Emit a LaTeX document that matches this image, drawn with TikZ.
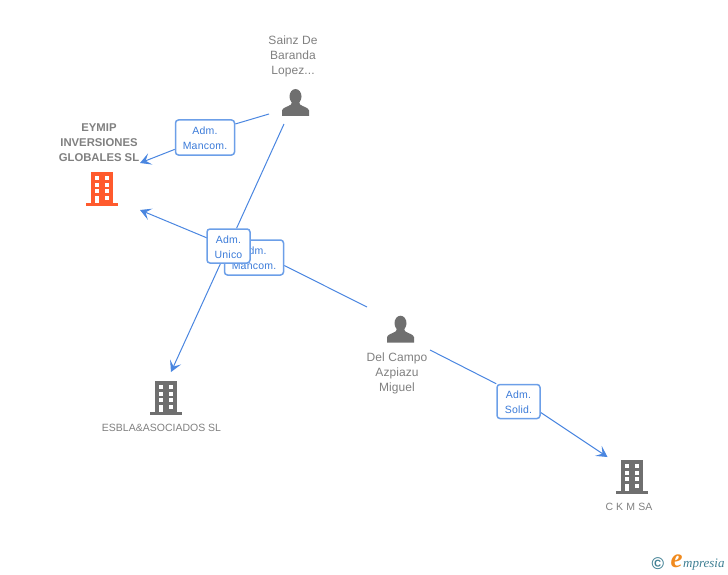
\documentclass[tikz,border=0pt]{standalone}
\usepackage{fontspec}
\setmainfont{Liberation Sans}
\newfontfamily\lblfont[LetterSpace=2]{Liberation Sans}
\newfontfamily\namefont[LetterSpace=0.6]{Liberation Sans}
\newfontfamily\ckmfont[LetterSpace=2]{Liberation Sans}
\newfontfamily\logofont{Liberation Serif}
\newcommand{\lblstrut}{\rule{0pt}{10pt}}
\usetikzlibrary{arrows.meta,backgrounds}
\definecolor{linkblue}{HTML}{4A86E0}
\definecolor{boxblue}{HTML}{6C9FE8}
\definecolor{lbltext}{HTML}{3B7BD9}
\definecolor{gtext}{HTML}{808080}
\definecolor{icongray}{HTML}{6F6F6F}
\definecolor{iconorange}{HTML}{FF5A2D}
\definecolor{logoteal}{HTML}{3F7F93}
\definecolor{logoorange}{HTML}{F08A1E}
\tikzset{
  x=1pt,y=-1pt,
  link/.style={draw=linkblue,line width=1pt},
  arrowlink/.style={link,-{Stealth[length=11pt,width=12pt,inset=5pt]}},
  relbox/.style={draw=boxblue,fill=white,line width=1.5pt,rounded corners=3pt,inner sep=0pt,align=center,font=\lblfont\fontsize{10.5}{15}\selectfont,text=lbltext},
  widebox/.style={relbox,minimum width=59pt,minimum height=35pt},
  narrowbox/.style={relbox,minimum width=43pt,minimum height=34pt},
  entname/.style={align=center,inner sep=0pt,text=gtext,font=\namefont\fontsize{12}{15}\selectfont},
  entbold/.style={align=center,inner sep=0pt,text=gtext,font=\bfseries\fontsize{11.3}{15}\selectfont},
  pics/building/.style={code={
    \fill[#1] (-11,0) rectangle (11,31);
    \fill[#1] (-16,31) rectangle (16,34);
    \fill[white] (-7,4) rectangle (-2.7,8);
    \fill[white] (3,4) rectangle (7.3,8);
    \fill[white] (-7,10.7) rectangle (-2.7,14.7);
    \fill[white] (3,10.7) rectangle (7.3,14.7);
    \fill[white] (-7,17.3) rectangle (-2.7,21.3);
    \fill[white] (3,17.3) rectangle (7.3,21.3);
    \fill[white] (-7,24) rectangle (-2.7,31);
    \fill[white] (3,24) rectangle (7.3,28);
  }},
  pics/person/.style={code={
    \fill[icongray] (0,7.5) ellipse[x radius=6,y radius=7.5];
    \fill[icongray] (-13.5,27) -- (-13.5,21.5) .. controls (-13,18.5) and (-8,18) .. (-4.5,15.5)
      -- (-3,11) -- (3,11) -- (4.5,15.5) .. controls (8,18) and (13,18.5) .. (13.5,21.5) -- (13.5,27) -- cycle;
  }}
}
\begin{document}
\begin{tikzpicture}
\useasboundingbox (0,0) rectangle (728,575);
% icons
\pic at (102,172) {building=iconorange};
\pic at (165.5,381) {building=icongray};
\pic at (631.5,460) {building=icongray};
\pic at (295.5,89) {person};
\pic at (400.5,315.7) {person};
% entity labels
\node[entname] (sainz) at (293,56.5) {Sainz De\\Baranda\\Lopez...};
\node[entbold] (eymip) at (99,142.5) {EYMIP\\INVERSIONES\\GLOBALES SL};
\node[entname] (campo) at (397,373.5) {Del Campo\\Azpiazu\\Miguel};
\node[entname,font=\fontsize{10.5}{15}\selectfont] (esbla) at (161.5,427.5) {ESBLA\&ASOCIADOS SL};
\node[entname,font=\ckmfont\fontsize{10.5}{15}\selectfont] (ckm) at (629,506.5) {C K M SA};
% free connector ends
\coordinate (s1) at (269,114);
\coordinate (s2) at (284,124);
\coordinate (c1) at (367,307);
\coordinate (c2) at (430,350);
\coordinate (t1) at (140,163);
\coordinate (t2) at (140,210);
\coordinate (t3) at (171,372);
\coordinate (t4) at (607.5,457);
% relation boxes
\node[widebox] (r1) at (205,137.5) {\lblstrut Adm.\\Mancom.};
\node[widebox] (r2) at (254,257.5) {\lblstrut Adm.\\Mancom.};
\node[narrowbox] (r3) at (228.5,246) {\lblstrut Adm.\\Unico};
\node[narrowbox] (r4) at (518.5,401.5) {\lblstrut Adm.\\Solid.};
% connectors
\begin{pgfonlayer}{background}
\draw[link] (s1) -- ([yshift=13.5pt]r1.east);
\draw[arrowlink] (r1) -- (t1);
\draw[link] (s2) -- (r3);
\draw[arrowlink] (r3) -- (t3);
\draw[link] (c1) -- ([yshift=-8pt]r2.east);
\draw[arrowlink] (r2) -- (t2);
\draw[link] (c2) -- (r4.north west);
\draw[arrowlink] ([yshift=-11pt]r4.east) -- (t4);
\end{pgfonlayer}
% logo
\node[inner sep=0pt,text=logoteal,font=\bfseries\fontsize{17}{17}\selectfont] (copy) at (658,564) {©};
\node[inner sep=0pt,text=logoorange,font=\logofont\bfseries\itshape\fontsize{27}{27}\selectfont] (loge) at (676.5,561.5) {e};
\node[inner sep=0pt,anchor=west,text=logoteal,font=\logofont\itshape\fontsize{13}{14}\selectfont] (logt) at (683,565) {mpresia};
\end{tikzpicture}
\end{document}
